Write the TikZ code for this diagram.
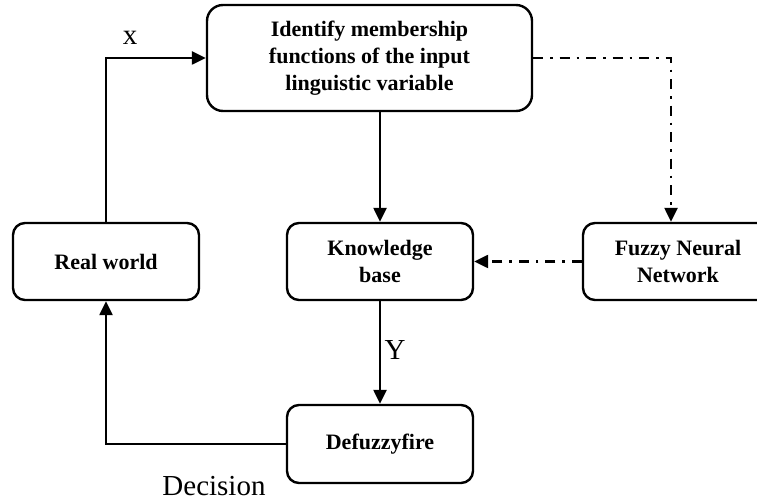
\documentclass[tikz,border=0pt]{standalone}
\usepackage{fontspec}
\setmainfont{Liberation Serif}
\usetikzlibrary{arrows.meta}
\begin{document}
\begin{tikzpicture}[x=1pt,y=-1pt,
 box/.style={draw, line width=2.4pt, rounded corners=12pt, align=center, font=\fontsize{22}{27}\selectfont\bfseries, inner sep=0pt},
 conn/.style={line width=2.4pt, -{Triangle[length=14pt,width=13pt]}},
 dd/.style={conn, dash pattern=on 10pt off 7pt on 2.5pt off 7pt},
 lbl/.style={font=\fontsize{29}{34}\selectfont, inner sep=0pt}]
\useasboundingbox (0,0) rectangle (757,502);
\clip (0,0) rectangle (757,502);
\node[box, minimum width=325pt, minimum height=106pt, rounded corners=16pt] (top) at (369.5,58) {Identify membership\\functions of the input\\linguistic variable};
\node[box, minimum width=186pt, minimum height=77pt] (rw) at (106,261.5) {Real world};
\node[box, minimum width=186pt, minimum height=77pt] (kb) at (380,261.5) {Knowledge\\base};
\node[box, minimum width=190pt, minimum height=77pt] (fnn) at (678,261.5) {Fuzzy Neural\\Network};
\node[box, minimum width=186pt, minimum height=78pt] (df) at (380,444) {Defuzzyfire};
\draw[conn] (rw.north) |- (top.west);
\node[lbl] (xl) at (130,38) {x};
\draw[conn] (top.south -| kb.north) -- (kb.north);
\draw[dd] (top.east) -| ([xshift=-7pt]fnn.north);
\draw[dd] (fnn.west) -- (kb.east);
\draw[conn] (kb.south) -- (df.north);
\node[lbl] (yl) at (395,350) {Y};
\draw[conn] (df.west) -| (rw.south);
\node[lbl] (dec) at (214,486) {Decision};
\end{tikzpicture}
\end{document}
